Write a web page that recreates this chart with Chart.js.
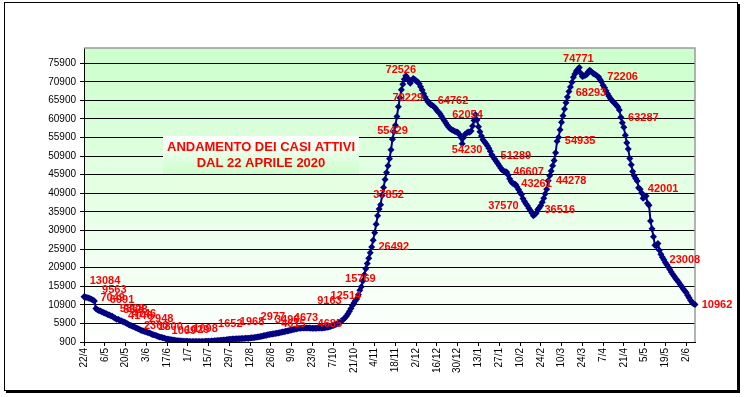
<!DOCTYPE html>
<html>
<head>
<meta charset="utf-8">
<script src="https://cdn.jsdelivr.net/npm/chart.js@4.4.1/dist/chart.umd.min.js"></script>
<style>
  body { margin: 0; background: #fff; }
  canvas { display: block; }
</style>
</head>
<body>
<canvas id="activeChart" width="745" height="397"></canvas>
<script>
// one value per day, starting 22/4/2020
const startDate = new Date(2020, 3, 22);
const activeCases = [
  13084, 12960, 12840, 12720, 12590, 12430, 12200, 11950, 9900, 9563, 9400, 9250, 9050, 8870,
  8680, 8500, 8320, 8150, 7980, 7800, 7550, 7300, 7049, 6991, 6780, 6600, 6420, 6250,
  6080, 5868, 5628, 5420, 5260, 5100, 4940, 4746, 4560, 4400, 4146, 4020, 3880, 3740,
  3600, 3460, 3320, 3180, 2948, 2860, 2700, 2560, 2360, 2270, 2160, 2060, 1950, 1800,
  1720, 1640, 1560, 1490, 1420, 1360, 1300, 1250, 1210, 1180, 1150, 1120, 1100, 1085,
  1069, 1060, 1050, 1045, 1040, 1035, 1032, 1029, 1030, 1035, 1045, 1055, 1070, 1085,
  1098, 1120, 1150, 1180, 1210, 1240, 1270, 1300, 1340, 1380, 1420, 1470, 1520, 1580,
  1652, 1670, 1690, 1710, 1730, 1750, 1770, 1790, 1810, 1835, 1860, 1885, 1910, 1940,
  1968, 2010, 2060, 2110, 2170, 2240, 2310, 2390, 2470, 2550, 2640, 2730, 2820, 2900,
  2977, 3050, 3130, 3200, 3280, 3350, 3420, 3496, 3580, 3670, 3760, 3850, 3950, 4050,
  4150, 4250, 4340, 4420, 4500, 4570, 4630, 4673, 4690, 4700, 4690, 4670, 4650, 4630,
  4615, 4610, 4620, 4630, 4640, 4655, 4670, 4685, 4720, 4780, 4850, 4940, 5050, 5180,
  5330, 5500, 5690, 5900, 6150, 6400, 6700, 7050, 7450, 7900, 8500, 9163, 9900, 10700,
  11400, 12000, 12514, 13600, 14800, 15769, 17300, 19000, 20600, 22000, 23400, 24900, 26492, 28300,
  30300, 32600, 34900, 36700, 37852, 40300, 42500, 44600, 46500, 48300, 50200, 52600, 55429, 57500,
  59200, 61600, 64200, 66600, 68800, 70229, 71600, 72526, 72000, 71200, 70500, 71300, 71800, 71500,
  71100, 70900, 70400, 69600, 68700, 67700, 66800, 66100, 65500, 65000, 64762, 64500, 64200, 63800,
  63200, 62800, 62300, 61700, 61000, 60400, 59800, 59200, 58700, 58300, 58000, 57800, 57600, 57400,
  57300, 56800, 56000, 54230, 55900, 56800, 57100, 57400, 57300, 57700, 59000, 60500, 62054, 60600,
  58800, 57500, 56300, 55300, 54800, 54300, 53700, 53000, 52200, 51289, 50700, 50100, 49500, 48900,
  48300, 47700, 47200, 46900, 46700, 46607, 45800, 44800, 44100, 43600, 43400, 43261, 42600, 41900,
  41200, 40600, 39500, 38800, 38100, 37570, 36900, 36300, 35600, 34900, 35200, 35600, 36516, 37000,
  37600, 38500, 39600, 40800, 42000, 44278, 45600, 46900, 48300, 49700, 51800, 54935, 56000, 58000,
  60000, 61800, 63600, 65300, 66800, 68293, 69500, 70800, 72100, 73000, 73800, 74300, 74771, 73200,
  72300, 72500, 72700, 72900, 73600, 74000, 73700, 73300, 73000, 72800, 72500, 72206, 71500, 70900,
  70000, 69300, 68500, 67700, 67000, 66400, 65900, 65500, 65100, 64600, 64100, 63287, 61400, 59900,
  58700, 56500, 54500, 52800, 50300, 48600, 46800, 45600, 44900, 44200, 42400, 42001, 41000, 39600,
  39900, 40200, 38200, 37700, 33460, 31400, 29200, 26900, 26700, 27400, 25600, 24500, 23700, 23008,
  22300, 21700, 21100, 20400, 19700, 19100, 18600, 18000, 17500, 17000, 16400, 15800, 15200, 14700,
  14200, 13500, 12800, 12100, 11500, 11200, 10962
];

// x labels shown every 14 days
const tickLabels = ['22/4', '6/5', '20/5', '3/6', '17/6', '1/7', '15/7', '29/7', '12/8', '26/8',
  '9/9', '23/9', '7/10', '21/10', '4/11', '18/11', '2/12', '16/12', '30/12', '13/1', '27/1',
  '10/2', '24/2', '10/3', '24/3', '7/4', '21/4', '5/5', '19/5', '2/6'];
const yTicks = [900, 5900, 10900, 15900, 20900, 25900, 30900, 35900, 40900, 45900,
  50900, 55900, 60900, 65900, 70900, 75900];

// days that carry a value label
const labelledDays = [0, 9, 22, 23, 29, 30, 35, 38, 46, 50, 55, 70, 77, 84, 98, 112, 126, 133,
  147, 154, 161, 179, 184, 187, 194, 200, 208, 217, 215, 234, 264, 255, 275, 285, 291, 299,
  306, 313, 319, 334, 327, 347, 361, 375, 391, 412];
// where each label sits relative to its point (px)
const labelOffsets = [[21, -16], [17, -20], [-4, -21], [4, -19], [5, -15], [7, -14], [8, -14],
  [0, -14], [9, -15], [-2, -11], [5, -12], [-4, -10], [-1, -12], [-3, -12], [1, -15], [2, -16],
  [2, -17], [6, -12], [4, -10], [-19, -4], [7, -4], [-20, -10], [-11, -3], [-1, -8], [22, 0],
  [8, -10], [0, -8], [-5, -6], [5, 14], [22, -4], [-8, 0], [5, 6], [24, 1], [22, 0], [21, -1],
  [-24, 0], [22, 0], [23, 0], [23, 0], [-1, -8], [22, 1], [24, 0], [24, 8], [23, 0], [21, 0], [22, 0]];

const titleLines = ['ANDAMENTO DEI CASI ATTIVI', 'DAL 22 APRILE 2020'];

const days = activeCases.map((v, i) => {
  const d = new Date(startDate);
  d.setDate(d.getDate() + i);
  return d.getDate() + '/' + (d.getMonth() + 1);
});

const FONT = "'Liberation Sans', Arial, sans-serif";

const backdrop = {
  id: 'backdrop',
  beforeDraw(chart) {
    const ctx = chart.ctx, a = chart.chartArea;
    ctx.save();
    ctx.fillStyle = '#fff';
    ctx.fillRect(0, 0, chart.width, chart.height);
    // outer frame with a little shadow
    ctx.strokeStyle = '#000';
    ctx.lineWidth = 1;
    ctx.strokeRect(4.5, 2.5, 733, 388);
    ctx.fillStyle = '#000';
    ctx.fillRect(737, 4, 3, 389);
    ctx.fillRect(6, 390, 734, 3);
    // plot area fill
    const g = ctx.createLinearGradient(0, a.top, 0, a.bottom);
    g.addColorStop(0, '#ccffcc');
    g.addColorStop(1, '#ffffff');
    ctx.fillStyle = g;
    ctx.fillRect(a.left, a.top, a.right - a.left, a.bottom - a.top);
    ctx.restore();
  },
  beforeDatasetsDraw(chart) {
    const ctx = chart.ctx, a = chart.chartArea;
    ctx.save();
    ctx.strokeStyle = '#9a9a9a';
    ctx.lineWidth = 1.5;
    ctx.beginPath();
    ctx.moveTo(a.left, a.top);
    ctx.lineTo(a.right, a.top);
    ctx.lineTo(a.right, a.bottom);
    ctx.stroke();
    // title box
    const bx = 163, by = 136, bw = 196, bh = 38;
    const g = ctx.createLinearGradient(0, by, 0, by + bh);
    g.addColorStop(0, '#ffffff');
    g.addColorStop(1, '#ccffcc');
    ctx.fillStyle = g;
    ctx.fillRect(bx, by, bw, bh);
    ctx.fillStyle = '#ff0000';
    ctx.font = 'bold 13px ' + FONT;
    ctx.textAlign = 'center';
    ctx.textBaseline = 'middle';
    ctx.fillText(titleLines[0], bx + bw / 2, 147);
    ctx.fillText(titleLines[1], bx + bw / 2, 163);
    ctx.restore();
  },
  afterDatasetsDraw(chart) {
    const ctx = chart.ctx;
    const pts = chart.getDatasetMeta(0).data;
    ctx.save();
    ctx.fillStyle = '#ff0000';
    ctx.font = 'bold 11px ' + FONT;
    ctx.textAlign = 'center';
    ctx.textBaseline = 'middle';
    labelledDays.forEach((idx, k) => {
      const p = pts[idx];
      const off = labelOffsets[k];
      ctx.fillText(String(activeCases[idx]), p.x + off[0], p.y + off[1]);
    });
    ctx.restore();
  }
};

const config = {
  type: 'line',
  data: {
    labels: days,
    datasets: [{
      data: activeCases,
      borderColor: '#000080',
      borderWidth: 2,
      pointStyle: 'rectRot',
      pointRadius: 3.5,
      pointBackgroundColor: '#000080',
      pointBorderWidth: 0,
      fill: false,
      tension: 0
    }]
  },
  options: {
    responsive: false,
    animation: false,
    layout: { padding: { top: 48, right: 50, left: 0, bottom: 0 } },
    plugins: { legend: { display: false }, tooltip: { enabled: false } },
    scales: {
      x: {
        offset: false,
        afterBuildTicks: (scale) => { scale.ticks = scale.ticks.filter((t) => t.value % 14 === 0); },
        afterFit: (scale) => { scale.height = 55; },
        grid: { drawOnChartArea: false, drawTicks: true, tickLength: 4, color: '#000' },
        border: { color: '#000', width: 1 },
        ticks: {
          autoSkip: false,
          minRotation: 90,
          maxRotation: 90,
          padding: 2,
          color: '#000',
          font: { family: FONT, size: 10 },
          callback: (value, i) => tickLabels[i]
        }
      },
      y: {
        min: 900,
        max: 80000,
        afterBuildTicks: (scale) => { scale.ticks = yTicks.map((v) => ({ value: v })); },
        afterFit: (scale) => { scale.width = 84; },
        grid: { color: '#000', lineWidth: 1, tickLength: 4, drawTicks: true },
        border: { color: '#000', width: 1 },
        ticks: {
          padding: 4,
          color: '#000',
          font: { family: FONT, size: 10 },
          callback: (v) => String(v)
        }
      }
    }
  },
  plugins: [backdrop]
};

const ctx = document.getElementById('activeChart').getContext('2d');
const activeChart = new Chart(ctx, config);
</script>
</body>
</html>
